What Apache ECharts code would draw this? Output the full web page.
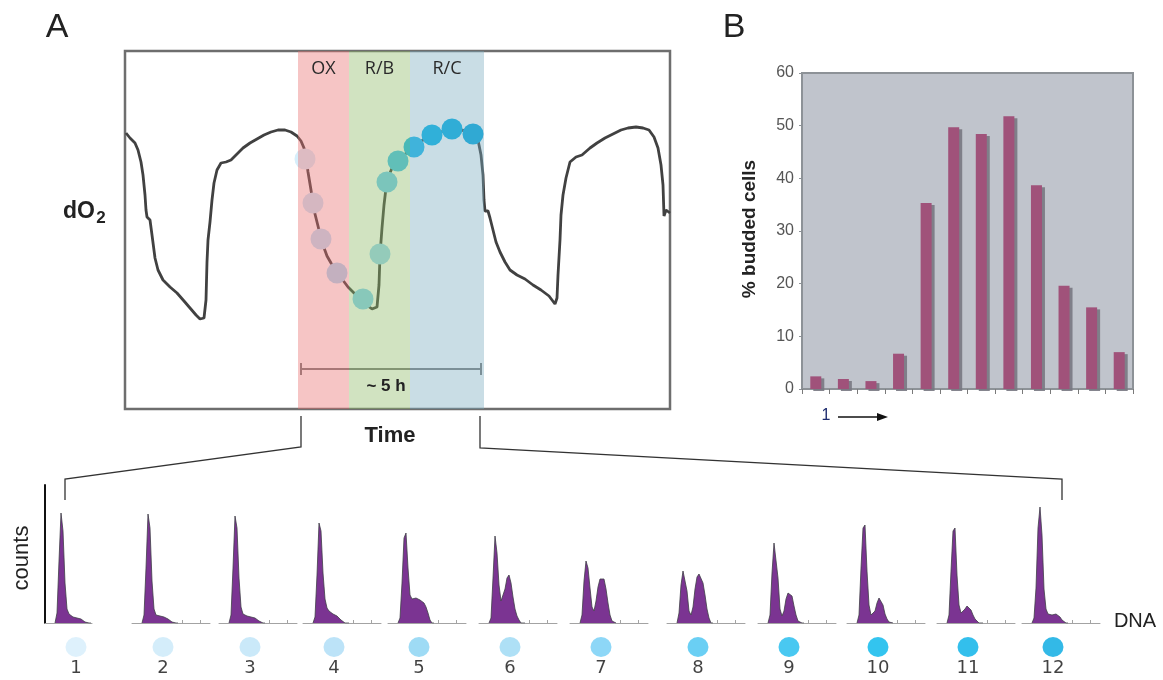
<!DOCTYPE html>
<html>
<head>
<meta charset="utf-8">
<script src="https://cdn.jsdelivr.net/npm/echarts@6/dist/echarts.min.js"></script>
<style>
  html, body { margin: 0; padding: 0; background: #fff; }
  #chart { width: 1163px; height: 680px; }
</style>
</head>
<body>
<div id="chart"></div>
<script>
// panel A: dO2 trace, [time, dO2] in arbitrary units
const trace = [
  [1,276],[5,271],[10,266],[13,259],[16,247],[18,234],[20,214],[21,199],[22,192],[25,189],
  [27,174],[30,151],[33,139],[38,129],[45,122],[52,116],[59,108],[65,101],[71,94],[75,90],
  [79,91],[81,109],[82,147],[83,169],[85,187],[87,209],[89,226],[92,239],[96,246],[101,247],
  [106,249],[111,254],[118,261],[125,266],[132,270],[139,274],[146,277],[153,279],[160,279],[166,277],
  [172,273],[176,268],[179,261],[181,251],[183,237],[186,219],[189,199],[192,187],[195,175],[198,164],
  [202,153],[206,146],[211,139],[217,130],[223,122],[230,115],[237,109],[243,103],[247,100],[252,102],
  [254,124],[255,154],[257,181],[259,204],[261,221],[264,234],[268,243],[273,249],[279,254],[285,259],
  [291,264],[298,269],[305,273],[312,276],[319,278],[327,280],[335,279],[343,278],[349,276],[353,269],
  [356,254],[358,234],[359,209],[360,198],[363,198],[365,191],[368,179],[371,167],[375,157],[380,147],
  [385,139],[392,134],[400,130],[408,124],[416,119],[424,113],[430,105],[432,111],[433,134],[435,169],
  [436,194],[438,214],[441,231],[445,247],[451,252],[457,254],[465,261],[472,266],[480,271],[488,275],
  [496,279],[503,281],[511,282],[518,281],[524,279],[529,272],[533,261],[536,244],[538,224],[539,193],
  [541,199],[543,201],[545,196]
];
const sampleTime = [180, 188, 196, 212, 238, 255, 262, 273, 289, 307, 327, 348];
const sampleDO2 = [250, 206, 170, 136, 110, 155, 227, 248, 262, 274, 280, 275];
const sampleColors = ['#d6eefb', '#c9e8f9', '#bde3f8', '#abdcf6', '#86d2f3', '#9ad8f4',
                      '#70cdf5', '#45c3f1', '#1bbaee', '#00b5eb', '#00afe7', '#00a8e1'];
const sampleLabels = ['1', '2', '3', '4', '5', '6', '7', '8', '9', '10', '11', '12'];
const phaseNames = ['OX', 'R/B', 'R/C'];
const phaseStart = [173, 224, 285];
const phaseEnd = [224, 285, 359];
const phaseColors = ['rgba(232,110,110,0.4)', 'rgba(140,185,100,0.4)', 'rgba(120,170,190,0.4)'];
const bracketFrom = 176, bracketTo = 356, bracketLevel = 40;

// panel B
const buddedPct = [2.4, 1.9, 1.5, 6.7, 35.3, 49.7, 48.4, 51.8, 38.7, 19.6, 15.5, 7.0];

// DNA histograms
const dnaBins = [10, 12, 14, 16, 18, 20, 22, 24, 26, 28, 30, 32, 34, 36, 38, 40, 42, 44, 46];
const counts1 = [0, 10, 62, 110, 92, 40, 14, 9, 7, 6, 6, 5, 5, 4, 3, 1, 0, 0, 0];
const counts2 = [0, 8, 55, 109, 95, 42, 14, 8, 6, 7, 8, 6, 5, 4, 3, 1, 0, 0, 0];
const counts3 = [0, 8, 55, 107, 95, 45, 16, 9, 8, 7, 7, 6, 6, 5, 3, 2, 0, 0, 0];
const counts4 = [0, 6, 48, 100, 92, 50, 24, 15, 12, 10, 9, 8, 7, 5, 3, 1, 0, 0, 0];
const counts5 = [0, 5, 40, 85, 90, 55, 28, 24, 25, 25, 24, 23, 22, 20, 16, 10, 3, 0, 0];
const counts6 = [0, 5, 45, 87, 70, 38, 22, 24, 34, 45, 48, 40, 26, 14, 7, 3, 0, 0, 0];
const counts7 = [0, 8, 42, 62, 55, 35, 16, 12, 22, 36, 44, 46, 44, 34, 20, 8, 2, 0, 0];
const counts8 = [0, 10, 38, 52, 54, 32, 12, 8, 16, 34, 46, 49, 48, 40, 28, 14, 5, 0, 0];
const counts9 = [0, 8, 50, 80, 81, 45, 14, 7, 12, 24, 30, 31, 27, 17, 8, 2, 0, 0, 0];
const counts10 = [0, 8, 55, 95, 98, 52, 18, 8, 8, 12, 20, 25, 24, 18, 9, 4, 1, 0, 0];
const counts11 = [0, 8, 52, 92, 95, 48, 18, 10, 10, 14, 17, 17, 13, 8, 4, 2, 0, 0, 0];
const counts12 = [0, 5, 35, 95, 116, 88, 34, 14, 9, 8, 8, 9, 9, 8, 6, 3, 1, 0, 0];
const histograms = [counts1, counts2, counts3, counts4, counts5, counts6,
                    counts7, counts8, counts9, counts10, counts11, counts12];

// layout of the small histograms (centre of each sample dot, px)
const histCenter = [76, 163, 250, 334, 419, 510, 601, 698, 789, 878, 968, 1053];

const font = 'Liberation Sans, Arial, sans-serif';
const chart = echarts.init(document.getElementById('chart'));

const grids = [
  { left: 125, top: 51, width: 545, height: 358, show: true, borderColor: '#6e6e6e', borderWidth: 2.5, backgroundColor: 'transparent' },
  { left: 802, top: 73, width: 331, height: 316, show: true, borderColor: '#8d9297', borderWidth: 2, backgroundColor: '#c0c4cc' }
];
const xAxes = [
  { gridIndex: 0, type: 'value', min: 0, max: 545, show: false },
  { gridIndex: 1, type: 'category', data: sampleLabels, boundaryGap: true,
    axisLine: { lineStyle: { color: '#8d9297', width: 2 } },
    axisTick: { show: true, interval: 0, length: 5, lineStyle: { color: '#7a7a7a' } },
    axisLabel: { show: false } }
];
const yAxes = [
  { gridIndex: 0, type: 'value', min: 0, max: 358, show: false },
  { gridIndex: 1, type: 'value', min: 0, max: 60, interval: 10,
    axisLine: { show: false },
    axisTick: { show: true, length: 3, lineStyle: { color: '#8d9297' } },
    axisLabel: { fontSize: 16, color: '#555', fontFamily: font, margin: 8 },
    splitLine: { show: false } }
];

const series = [
  { type: 'line', xAxisIndex: 0, yAxisIndex: 0, data: trace, symbol: 'none', z: 2,
    lineStyle: { color: '#414141', width: 2.8 }, silent: true },
  { type: 'scatter', xAxisIndex: 0, yAxisIndex: 0, symbolSize: 21, z: 3, silent: true,
    data: sampleTime.map((t, i) => ({ value: [t, sampleDO2[i]], itemStyle: { color: sampleColors[i], opacity: 1 } })) },
  { type: 'line', xAxisIndex: 0, yAxisIndex: 0, data: [], silent: true,
    markLine: {
      z: 3, silent: true, symbol: 'none', animation: false,
      label: { show: false },
      lineStyle: { color: '#7d7d7d', width: 2, type: 'solid' },
      data: [
        [{ coord: [bracketFrom, bracketLevel - 6] }, { coord: [bracketFrom, bracketLevel + 6] }],
        [{ coord: [bracketFrom, bracketLevel] }, { coord: [bracketTo, bracketLevel] }],
        [{ coord: [bracketTo, bracketLevel - 6] }, { coord: [bracketTo, bracketLevel + 6] }]
      ]
    } },
  { type: 'line', xAxisIndex: 0, yAxisIndex: 0, data: [], silent: true,
    markArea: {
      z: 10, silent: true, animation: false,
      label: { show: true, position: 'insideTop', distance: 9, color: '#2a2a2a', fontSize: 18, fontFamily: 'Open Sans, sans-serif' },
      data: phaseNames.map((n, i) => [
        { name: n, xAxis: phaseStart[i], itemStyle: { color: phaseColors[i] } },
        { xAxis: phaseEnd[i] }
      ])
    } },
  { type: 'bar', xAxisIndex: 1, yAxisIndex: 1, data: buddedPct, barWidth: 11, silent: true,
    itemStyle: { color: '#a0527a', shadowColor: 'rgba(120,120,130,0.9)', shadowOffsetX: 3, shadowOffsetY: 2, shadowBlur: 0 } }
];

histograms.forEach((h, i) => {
  const first = i === 0;
  const width = first ? 47 : 78;
  grids.push({ left: histCenter[i] - 31, top: 485, width: width, height: 138 });
  xAxes.push({ gridIndex: i + 2, type: 'value', min: 0, max: width,
    axisLine: { show: true, lineStyle: { color: '#a3a3a3', width: 1 } },
    axisTick: { show: !first, customValues: [50, 68], inside: true, length: 3, lineStyle: { color: '#a3a3a3' } },
    axisLabel: { show: false }, splitLine: { show: false } });
  yAxes.push({ gridIndex: i + 2, type: 'value', min: 0, max: 138, show: first, offset: 2,
    axisLine: { show: true, lineStyle: { color: '#111', width: 2 } },
    axisTick: { show: false }, axisLabel: { show: false }, splitLine: { show: false } });
  series.push({ type: 'line', xAxisIndex: i + 2, yAxisIndex: i + 2, symbol: 'none', silent: true,
    data: dnaBins.map((x, k) => [x, h[k]]),
    lineStyle: { color: '#3f3f46', width: 0.8 },
    areaStyle: { color: '#7b3492', opacity: 1 } });
  series.push({ type: 'scatter', xAxisIndex: i + 2, yAxisIndex: i + 2, clip: false, silent: true,
    symbolSize: [21, 20], data: [[31, -24]],
    itemStyle: { color: sampleColors[i] },
    label: { show: true, position: 'bottom', distance: 2, formatter: sampleLabels[i],
      fontSize: 18, color: '#111', fontFamily: 'DejaVu Sans, sans-serif' } });
});

function txt(x, y, text, size, weight, extra) {
  return Object.assign({ type: 'text', x: x, y: y, silent: true,
    style: { text: text, fontSize: size, fontWeight: weight || 'normal', fontFamily: font, fill: '#222',
      align: 'center', verticalAlign: 'middle', textAlign: 'center', textVerticalAlign: 'middle' } }, extra || {});
}

const graphics = [
  txt(57, 28, 'A', 34),
  txt(734, 28, 'B', 34),
  txt(79, 212, 'dO', 23, 'bold', { z: 20 }),
  txt(101, 218, '2', 17, 'bold'),
  txt(390, 436, 'Time', 22, 'bold'),
  txt(386, 386, '~ 5 h', 17, 'bold', { z: 20 }),
  txt(750, 229, '% budded cells', 19, 'bold', { rotation: Math.PI / 2 }),
  txt(22, 558, 'counts', 22, 'normal', { rotation: Math.PI / 2 }),
  txt(1135, 621, 'DNA', 20),
  { type: 'text', x: 826, y: 416, silent: true,
    style: { text: '1', fontSize: 16, fontFamily: font, fill: '#1d2b6e', align: 'center', verticalAlign: 'middle', textAlign: 'center', textVerticalAlign: 'middle' } },
  { type: 'line', silent: true, shape: { x1: 838, y1: 417, x2: 878, y2: 417 }, style: { stroke: '#111', lineWidth: 1.3 } },
  { type: 'polygon', silent: true, shape: { points: [[877, 413], [888, 417], [877, 421]] }, style: { fill: '#111' } },
  { type: 'polyline', silent: true, shape: { points: [[301, 416], [301, 447], [65, 479], [65, 500]] },
    style: { stroke: '#333', lineWidth: 1.3, fill: null } },
  { type: 'polyline', silent: true, shape: { points: [[480, 416], [480, 448], [1062, 479], [1062, 500]] },
    style: { stroke: '#333', lineWidth: 1.3, fill: null } }
];

chart.setOption({
  animation: false,
  backgroundColor: '#ffffff',
  grid: grids,
  xAxis: xAxes,
  yAxis: yAxes,
  series: series,
  graphic: graphics
});
</script>
</body>
</html>
